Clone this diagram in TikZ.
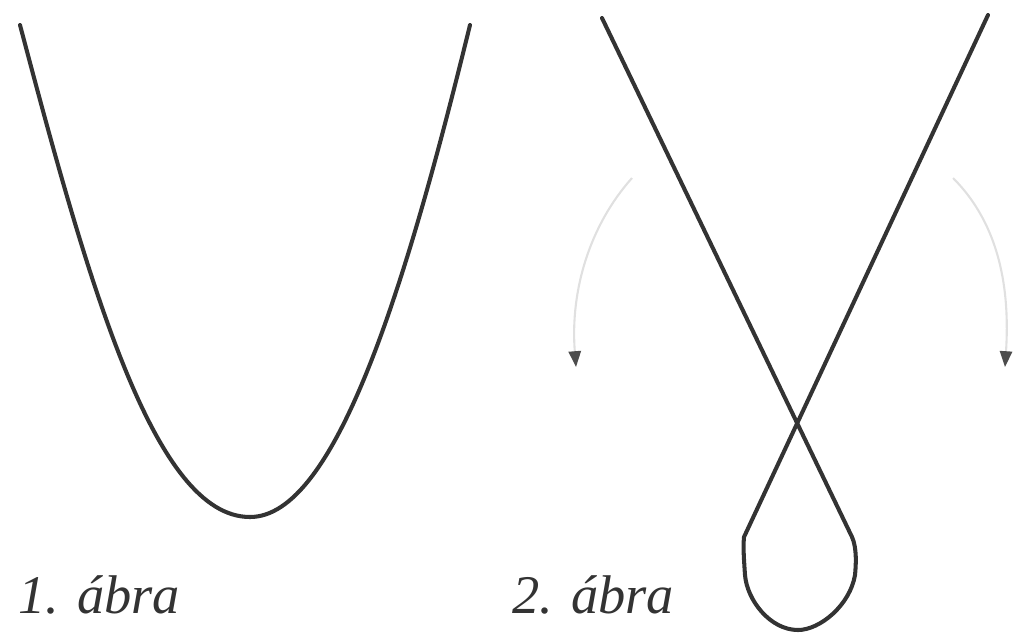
\documentclass[tikz,border=0pt]{standalone}
\usepackage{fontspec}
\newfontfamily\capfont{Liberation Serif}
\usetikzlibrary{arrows.meta}
\begin{document}
\begin{tikzpicture}[x=0.02cm,y=-0.02cm,
  curve/.style={draw=black!80,line width=2.3pt,line cap=round,line join=round},
  turn/.style={draw=black!12,line width=1.2pt,-{Triangle[length=9pt,width=7pt,color=black!70]}},
  caption/.style={font=\capfont\fontsize{31}{37}\selectfont\itshape,text=black!80,anchor=base west,inner sep=0pt}]
\useasboundingbox (0,0) rectangle (1017,633);
% figure 1: U curve
\coordinate (u1) at (20,25);
\coordinate (u0) at (250,517);
\coordinate (u2) at (470,25);
\draw[curve] (u1) .. controls (90,290) and (155,517) .. (u0)
  .. controls (335,517) and (405,290) .. (u2);
% figure 2: crossed loop
\coordinate (a) at (602,18);
\coordinate (b) at (988,15);
\coordinate (x) at (795,425);
\coordinate (l) at (744,537);
\coordinate (r) at (852,537);
\draw[curve] (a) -- (r) .. controls (857,548) and (856,565) .. (855,575)
  .. controls (850,605) and (820,630) .. (798,630)
  .. controls (770,630) and (747,600) .. (745,575)
  .. controls (744,560) and (743,548) .. (l) -- (b);
% arrows
\coordinate (p1) at (632,178);
\coordinate (q1) at (576,367);
\coordinate (p2) at (953,178);
\coordinate (q2) at (1005,367);
\draw[turn] (p1) .. controls (590,225) and (570,290) .. (q1);
\draw[turn] (p2) .. controls (1000,225) and (1010,290) .. (q2);
% captions
\node[caption] (c1) at (18,613) {1. ábra};
\node[caption] (c2) at (512,613) {2. ábra};
\end{tikzpicture}
\end{document}
